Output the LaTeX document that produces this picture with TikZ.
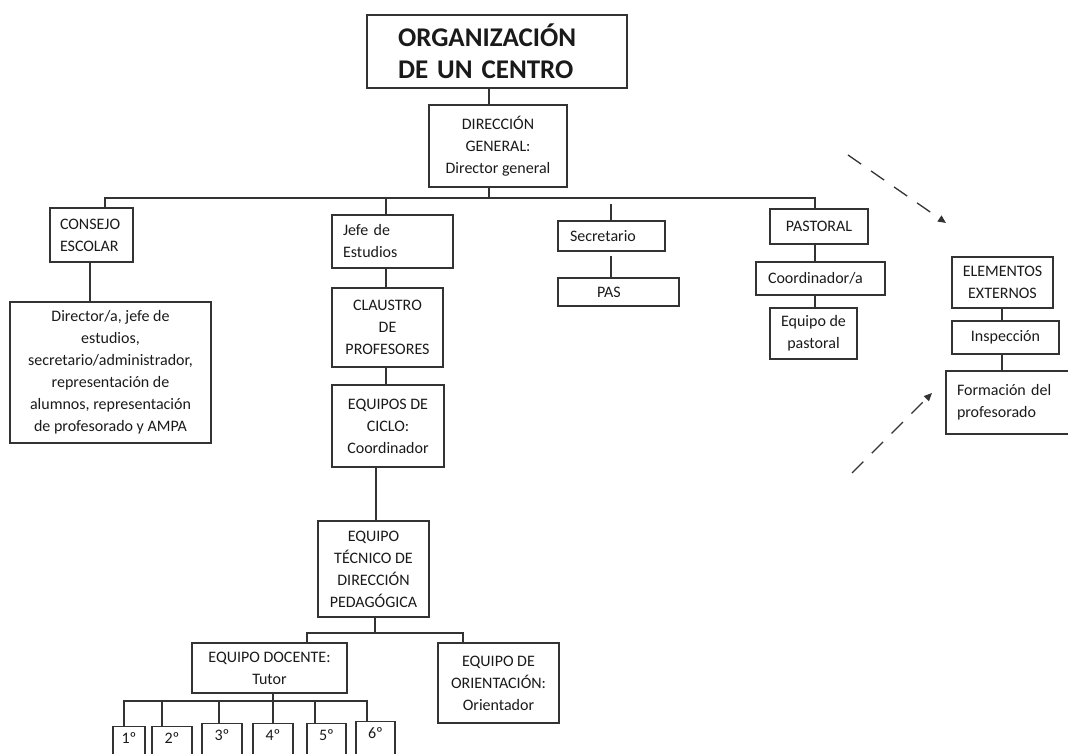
\documentclass[tikz,border=0pt]{standalone}
\usepackage{fontspec}
\setmainfont{Carlito}
\usetikzlibrary{arrows.meta}
\definecolor{ln}{HTML}{333333}
\definecolor{tx}{HTML}{1A1A1A}
\begin{document}
\begin{tikzpicture}[x=1pt,y=-1pt,
  box/.style={draw=ln, line width=1.4pt, inner sep=0pt, align=center, text=tx,
    font=\fontsize{16}{22}\selectfont},
  lbox/.style={box, align=left},
  conn/.style={draw=ln, line width=1.4pt},
  dasharrow/.style={draw=ln, line width=1.3pt, dash pattern=on 16pt off 12pt,
    -{Triangle[width=7pt,length=8pt]}},
  gbox/.style={box, anchor=north, inner ysep=7pt, text height=10pt, text depth=30pt}]
\useasboundingbox (0,0) rectangle (1068,754);
\clip (0,0) rectangle (1068,754);
% boxes
\node[lbox, text width=198pt, inner xsep=31pt, minimum height=73pt,
  font=\fontsize{27}{32}\selectfont\bfseries] (title) at (497,51.5) {ORGANIZACIÓN\\DE UN CENTRO};
\node[box, minimum width=138pt, minimum height=82pt] (dir) at (498,146) {DIRECCIÓN\\GENERAL:\\Director general};
\node[lbox, text width=63pt, inner xsep=10pt, minimum height=54pt] (consejo) at (91.5,235) {CONSEJO\\ESCOLAR};
\node[box, minimum width=201pt, minimum height=141pt] (bigbox) at (110.5,372.5) {Director/a, jefe de\\estudios,\\secretario/administrador,\\representación de\\alumnos, representación\\de profesorado y AMPA};
\node[lbox, text width=99pt, inner xsep=11pt, minimum height=53pt] (jefe) at (392.5,241.5) {Jefe de\\Estudios};
\node[box, minimum width=111pt, minimum height=79pt] (claustro) at (387.5,327.5) {CLAUSTRO\\DE\\PROFESORES};
\node[box, minimum width=112pt, minimum height=82pt] (ciclo) at (388,426) {EQUIPOS DE\\CICLO:\\Coordinador};
\node[box, minimum width=111pt, minimum height=96pt] (etdp) at (373.5,569) {EQUIPO\\TÉCNICO DE\\DIRECCIÓN\\PEDAGÓGICA};
\node[box, minimum width=155pt, minimum height=50pt] (docente) at (269.5,668) {EQUIPO DOCENTE:\\Tutor};
\node[box, minimum width=121pt, minimum height=80pt] (orient) at (498.5,683) {EQUIPO DE\\ORIENTACIÓN:\\Orientador};
\node[lbox, text width=83pt, inner xsep=12pt, minimum height=30pt] (secret) at (611.5,236) {Secretario};
\node[lbox, text width=43pt, inner xsep=39pt, minimum height=28pt] (pas) at (618.5,292) {PAS};
\node[box, minimum width=98pt, minimum height=35pt] (pastoral) at (819,226.5) {PASTORAL};
\node[lbox, text width=105pt, inner xsep=12pt, minimum height=33pt] (coord) at (820.5,278.5) {Coordinador/a};
\node[box, minimum width=87pt, minimum height=51pt] (eqpast) at (813.5,333.5) {Equipo de\\pastoral};
\node[box, minimum width=101pt, minimum height=51pt] (elem) at (1002.5,282.5) {ELEMENTOS\\EXTERNOS};
\node[box, minimum width=107pt, minimum height=33pt] (insp) at (1005.5,337.5) {Inspección};
\node[lbox, text width=108pt, inner xsep=11pt, minimum height=63pt] (form) at (1011,402.5) {Formación del\\profesorado};
% grade boxes
\node[gbox, minimum width=32pt] (c1) at (129,726) {1º};
\node[gbox, minimum width=40pt] (c2) at (172,726) {2º};
\node[gbox, minimum width=40pt] (c3) at (222,723) {3º};
\node[gbox, minimum width=40pt] (c4) at (273,723) {4º};
\node[gbox, minimum width=39pt] (c5) at (326.5,723) {5º};
\node[gbox, minimum width=39pt] (c6) at (375.5,721) {6º};
% junction coordinates
\coordinate (b1) at (489,198);
\coordinate (bL) at (105,198);
\coordinate (bR) at (815,198);
\coordinate (bJ) at (386,198);
\coordinate (bS) at (611,198);
\coordinate (xc) at (90,300);
\coordinate (xe) at (376,500);
\coordinate (b2) at (375,633);
\coordinate (b2L) at (307,633);
\coordinate (b2R) at (463,633);
\coordinate (b3) at (273,701);
\coordinate (g1) at (124,701);
\coordinate (g2) at (162,701);
\coordinate (g3) at (219,701);
\coordinate (g4) at (273,701);
\coordinate (g5) at (315,701);
\coordinate (g6) at (367,701);
\coordinate (xm) at (1002,300);
\coordinate (d1s) at (848,155);
\coordinate (d1e) at (946,223);
\coordinate (d2s) at (852,473);
\coordinate (d2e) at (932,393);
% connectors
\draw[conn] (title.south -| b1) -- (dir.north -| b1);
\draw[conn] (dir.south -| b1) -- (b1);
\draw[conn] (consejo.north -| bL) -- (bL) -- (bR) -- (pastoral.north -| bR);
\draw[conn] (consejo.south -| xc) -- (bigbox.north -| xc);
\draw[conn] (bJ) -- (jefe.north -| bJ);
\draw[conn] (jefe.south -| bJ) -- (claustro.north -| bJ);
\draw[conn] (claustro.south -| bJ) -- (ciclo.north -| bJ);
\draw[conn] (ciclo.south -| xe) -- (etdp.north -| xe);
\draw[conn] (etdp.south -| b2) -- (b2);
\draw[conn] (docente.north -| b2L) -- (b2L) -- (b2R) -- (orient.north -| b2R);
\draw[conn] (docente.south -| b3) -- (b3);
\draw[conn] (c1.north -| g1) -- (g1) -- (g6) -- (c6.north -| g6);
\draw[conn] (g2) -- (c2.north -| g2);
\draw[conn] (g3) -- (c3.north -| g3);
\draw[conn] (g4) -- (c4.north -| g4);
\draw[conn] (g5) -- (c5.north -| g5);
\draw[conn, shorten <=6pt] (bS) -- (secret.north -| bS);
\draw[conn, shorten <=4pt] (secret.south -| bS) -- (pas.north -| bS);
\draw[conn] (pastoral.south -| bR) -- (coord.north -| bR);
\draw[conn] (coord.south -| bR) -- (eqpast.north -| bR);
\draw[conn] (elem.south -| xm) -- (insp.north -| xm);
\draw[conn] (insp.south -| xm) -- (form.north -| xm);
\draw[dasharrow] (d1s) -- (d1e);
\draw[dasharrow] (d2s) -- (d2e);
\end{tikzpicture}
\end{document}
